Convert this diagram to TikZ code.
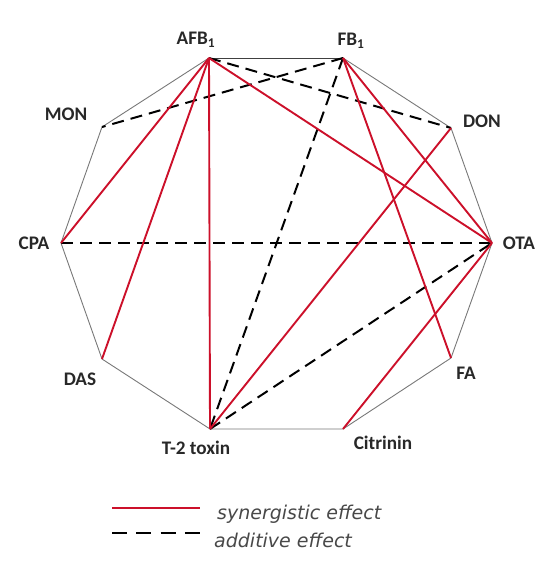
\documentclass[tikz,border=0pt]{standalone}
\usepackage{fontspec}
\setmainfont{Carlito}
\newfontfamily\legfont{DejaVu Sans}
\definecolor{synred}{RGB}{204,16,42}
\definecolor{rimgray}{RGB}{120,120,120}
\definecolor{labgray}{RGB}{40,40,40}
\begin{document}
\begin{tikzpicture}[x=1pt,y=-1pt,
  rim/.style={draw=rimgray,line width=0.9pt},
  syn/.style={draw=synred,line width=1.9pt},
  add/.style={draw=black,line width=2pt,dash pattern=on 12pt off 7pt},
  lab/.style={font=\fontsize{19.2}{19.2}\selectfont\bfseries,text=labgray,inner sep=0pt},
  leg/.style={font=\legfont\itshape\fontsize{19}{19}\selectfont,text=labgray!85,inner sep=0pt,anchor=west}]
\useasboundingbox (0,0) rectangle (552,583);
% vertices
\coordinate (AFB) at (209,58);
\coordinate (FB) at (343,58);
\coordinate (DON) at (451,128);
\coordinate (OTA) at (492,243);
\coordinate (FA) at (451,358);
\coordinate (CIT) at (343,429);
\coordinate (T2) at (210,429);
\coordinate (DAS) at (102,359);
\coordinate (CPA) at (61,243);
\coordinate (MON) at (102,127);
% outline
\draw[rim,draw=black!75] (AFB) -- (FB);
\draw[rim] (FB) -- (DON) -- (OTA) -- (FA) -- (CIT) -- (T2) -- (DAS) -- (CPA) -- (MON) -- (AFB);
% additive
\draw[add] (AFB) -- (DON);
\draw[add] (FB) -- (MON);
\draw[add] (FB) -- (T2);
\draw[add] (CPA) -- (OTA);
\draw[add] (T2) -- (OTA);
% synergistic
\draw[syn] (AFB) -- (CPA);
\draw[syn] (AFB) -- (DAS);
\draw[syn] (AFB) -- (T2);
\draw[syn] (AFB) -- (OTA);
\draw[syn] (FB) -- (OTA);
\draw[syn] (FB) -- (FA);
\draw[syn] (DON) -- (T2);
\draw[syn] (CIT) -- (OTA);
% labels
\node[lab] (lAFB) at (196,40) {AFB\textsubscript{1}};
\node[lab] (lFB) at (351,41) {FB\textsubscript{1}};
\node[lab] (lMON) at (66,114) {MON};
\node[lab] (lCPA) at (34,243) {CPA};
\node[lab] (lDON) at (482,121) {DON};
\node[lab] (lOTA) at (519,243) {OTA};
\node[lab] (lDAS) at (80,379) {DAS};
\node[lab] (lT2) at (196,448) {T-2 toxin};
\node[lab] (lFA) at (466,373) {FA};
\node[lab] (lCIT) at (383,443) {Citrinin};
% legend
\coordinate (r1) at (112,508);
\coordinate (r2) at (200,508);
\coordinate (d1) at (112,533);
\coordinate (d2) at (200,533);
\draw[syn,line width=2.4pt] (r1) -- (r2);
\draw[add,line width=2.4pt,dash pattern=on 15pt off 9.3pt] (d1) -- (d2);
\node[leg] (lsyn) at (217,514) {synergistic effect};
\node[leg] (ladd) at (214,540) {additive effect};
\end{tikzpicture}
\end{document}
